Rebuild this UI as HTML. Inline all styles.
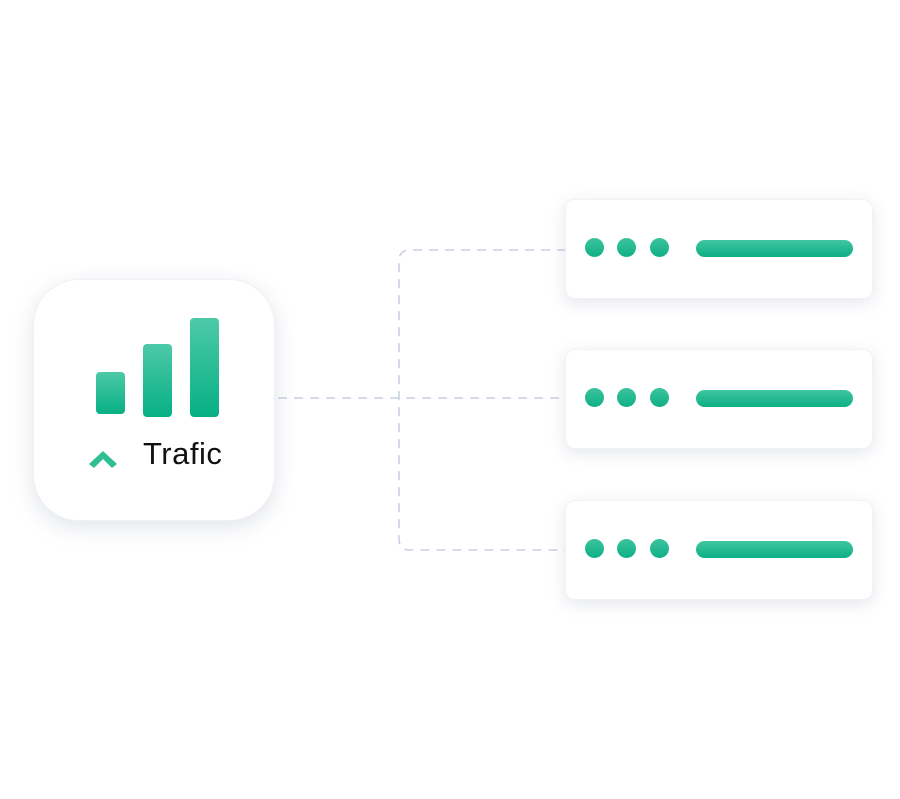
<!DOCTYPE html>
<html><head><meta charset="utf-8"><style>
body{margin:0;width:900px;height:799px;background:#fff;position:relative;overflow:hidden;font-family:"Liberation Sans",sans-serif}
.box{position:absolute;left:33px;top:279px;width:242px;height:242px;border-radius:46px;background:#fff;box-shadow:0 6px 22px rgba(120,130,160,0.22);border:1px solid #eef1f6;box-sizing:border-box}
.card{position:absolute;left:565px;width:308px;height:100px;border-radius:10px;background:#fff;box-shadow:0 4px 16px rgba(120,130,160,0.2);border:1px solid #f0f2f6;box-sizing:border-box}
.dot{position:absolute;width:19px;height:19px;border-radius:50%;background:linear-gradient(#3cc49e,#0faf86);top:38px}
.bar{position:absolute;left:130px;top:40px;width:157px;height:17px;border-radius:9px;background:linear-gradient(#3fc6a1,#0daf85)}
.vb{position:absolute;border-radius:4px;background:linear-gradient(#4dc9a8,#07b084)}
</style></head><body>
<svg width="900" height="799" style="position:absolute;left:0;top:0">
<g fill="none" stroke="#c9d0e0" stroke-width="1.6" stroke-dasharray="9 7">
<path d="M278 398 H566"/>
<path d="M566 250 H410 Q399 250 399 261 V539 Q399 550 410 550 H566"/>
</g></svg>
<div class="box">
<div class="vb" style="left:62px;top:92px;width:29px;height:42px"></div>
<div class="vb" style="left:109px;top:64px;width:29px;height:73px"></div>
<div class="vb" style="left:156px;top:38px;width:29px;height:99px"></div>
<svg style="position:absolute;left:53px;top:166px" width="34" height="24"><path d="M2 18 L16 5 L30 18 L25 22 L16 13 L7 22 Z" fill="#2fbf93"/></svg>
<div style="position:absolute;left:109px;top:156px;font-size:31px;letter-spacing:0.5px;color:#111">Trafic</div>
</div>
<div class="card" style="top:199px"><div class="dot" style="left:19px"></div><div class="dot" style="left:51px"></div><div class="dot" style="left:84px"></div><div class="bar"></div></div>
<div class="card" style="top:349px"><div class="dot" style="left:19px"></div><div class="dot" style="left:51px"></div><div class="dot" style="left:84px"></div><div class="bar"></div></div>
<div class="card" style="top:500px"><div class="dot" style="left:19px"></div><div class="dot" style="left:51px"></div><div class="dot" style="left:84px"></div><div class="bar"></div></div>
</body></html>
